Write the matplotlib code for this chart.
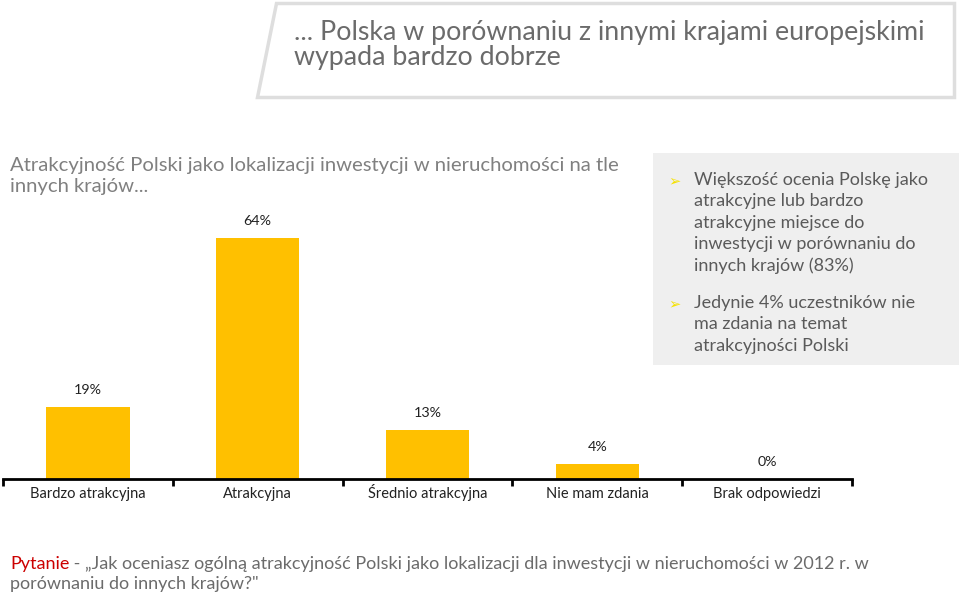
import matplotlib.pyplot as plt
import matplotlib.patches as patches

kategorie = ["Bardzo atrakcyjna", "Atrakcyjna", "Średnio atrakcyjna", "Nie mam zdania", "Brak odpowiedzi"]
wartosci = [19, 64, 13, 4, 0]
etykiety = ["19%", "64%", "13%", "4%", "0%"]

tytul = ["... Polska w porównaniu z innymi krajami europejskimi", "wypada bardzo dobrze"]
podtytul = ["Atrakcyjność Polski jako lokalizacji inwestycji w nieruchomości na tle", "innych krajów..."]
punkty = [
    ["Większość ocenia Polskę jako", "atrakcyjne lub bardzo", "atrakcyjne miejsce do",
     "inwestycji w porównaniu do", "innych krajów (83%)"],
    ["Jedynie 4% uczestników nie", "ma zdania na temat", "atrakcyjności Polski"],
]
pytanie = ["„Jak oceniasz ogólną atrakcyjność Polski jako lokalizacji dla inwestycji w nieruchomości w 2012 r. w",
           "porównaniu do innych krajów?\""]

W, H = 959, 595
plt.rcParams['font.family'] = ['Lato', 'DejaVu Sans']

fig = plt.figure(figsize=(W / 100, H / 100), dpi=100)


def px(x, y):
    # piksele -> wspolrzedne figury
    return x / W, 1 - y / H


# ramka tytulu
ramka = patches.Polygon([px(276, 3), px(954, 3), px(954, 97), px(257, 97)], closed=True,
                        transform=fig.transFigure, facecolor='white', edgecolor='#dedede', linewidth=2.5)
fig.patches.append(ramka)
for i, linia in enumerate(tytul):
    fig.text(*px(294, 40 + 25 * i), linia, fontsize=19.3, color='#6b6b6b', va='baseline', ha='left')

# podtytul
for i, linia in enumerate(podtytul):
    fig.text(*px(10, 171 + 21 * i), linia, fontsize=14.6, color='#808080', va='baseline', ha='left')

# szare pole z punktami
pole = patches.Rectangle(px(653, 365), 306 / W, 212 / H, transform=fig.transFigure,
                         facecolor='#efefef', edgecolor='none')
fig.patches.append(pole)
y0 = 185
for tekst in punkty:
    fig.text(*px(668, y0), "➢", fontsize=10.5, color='#f5e100', va='baseline', ha='left', family='DejaVu Sans')
    for j, linia in enumerate(tekst):
        fig.text(*px(694, y0 + 21.4 * j), linia, fontsize=13, color='#5a5a5a', va='baseline', ha='left')
    y0 += 123

# wykres
ax = fig.add_axes([3 / W, 116 / H, 849 / W, 328 / H])
x = range(len(kategorie))
bars = ax.bar(x, wartosci, width=0.49, color='#ffc000')
ax.bar_label(bars, labels=etykiety, padding=8, fontsize=10.3, color='#222222')
ax.set_xlim(-0.5, len(kategorie) - 0.5)
ax.set_ylim(0, 87)
ax.set_xticks(list(x))
ax.set_xticklabels(kategorie, fontsize=10.5, color='#222222')
for lab in ax.get_xticklabels():
    lab.set_verticalalignment('baseline')
ax.set_xticks([i - 0.5 for i in range(len(kategorie) + 1)], minor=True)
ax.tick_params(axis='x', which='major', length=0, pad=14)
ax.tick_params(axis='x', which='minor', length=5, width=2, direction='out', color='black')
ax.set_yticks([])
for s in ['top', 'right', 'left']:
    ax.spines[s].set_visible(False)
ax.spines['bottom'].set_linewidth(2)
ax.patch.set_alpha(0)

# pytanie
t = fig.text(*px(10, 569), "Pytanie", fontsize=13, color='#cc0000', va='baseline', ha='left')
fig.canvas.draw()
x_konca = t.get_window_extent().x1
fig.text(x_konca / W, 1 - 569 / H, " - " + pytanie[0], fontsize=13, color='#6b6b6b', va='baseline', ha='left')
fig.text(*px(10, 589), pytanie[1], fontsize=13, color='#6b6b6b', va='baseline', ha='left')

fig.savefig("out.png", dpi=100)
